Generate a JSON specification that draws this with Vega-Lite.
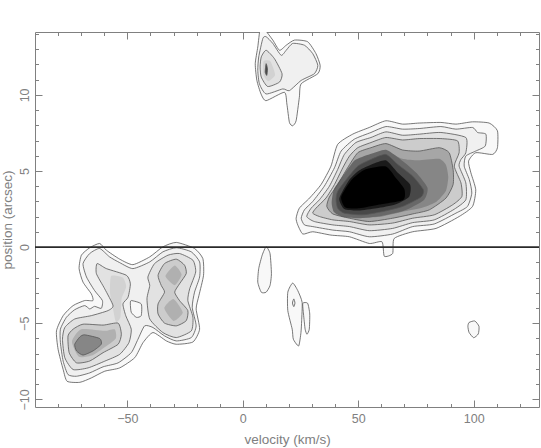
{"$schema":"https://vega.github.io/schema/vega-lite/v6.json","width":504,"height":375,"autosize":"none","padding":{"left":35,"top":32,"right":1,"bottom":40},"background":"white","view":{"stroke":"#808080","strokeWidth":1},
"datasets":{"zero":[{"v":-90,"p":0},{"v":128.3,"p":0}],"c":[
{"c":"m1","l":"a","v":23.1,"p":1.9},{"c":"m1","l":"a","v":24.5,"p":2.56},{"c":"m1","l":"a","v":28.9,"p":3.22},{"c":"m1","l":"a","v":33.9,"p":4.11},{"c":"m1","l":"a","v":38.2,"p":5.32},{"c":"m1","l":"a","v":41.1,"p":6.75},{"c":"m1","l":"a","v":47.6,"p":7.42},{"c":"m1","l":"a","v":54.8,"p":7.86},{"c":"m1","l":"a","v":62,"p":8.3},{"c":"m1","l":"a","v":69.2,"p":8.08},{"c":"m1","l":"a","v":76.4,"p":8.15},{"c":"m1","l":"a","v":85.8,"p":8.19},{"c":"m1","l":"a","v":92.3,"p":8.08},{"c":"m1","l":"a","v":99.5,"p":8.23},{"c":"m1","l":"a","v":106.7,"p":8.15},{"c":"m1","l":"a","v":110.3,"p":7.64},{"c":"m1","l":"a","v":110.3,"p":6.53},{"c":"m1","l":"a","v":108.2,"p":6.09},{"c":"m1","l":"a","v":100.9,"p":6.2},{"c":"m1","l":"a","v":97.8,"p":5.65},{"c":"m1","l":"a","v":98.8,"p":4.88},{"c":"m1","l":"a","v":100.9,"p":3.77},{"c":"m1","l":"a","v":99.5,"p":2.67},{"c":"m1","l":"a","v":93.7,"p":2.01},{"c":"m1","l":"a","v":83.7,"p":1.23},{"c":"m1","l":"a","v":73.6,"p":1.01},{"c":"m1","l":"a","v":65.6,"p":0.57},{"c":"m1","l":"a","v":64.9,"p":-0.42},{"c":"m1","l":"a","v":61.3,"p":-0.6},{"c":"m1","l":"a","v":60.3,"p":0.35},{"c":"m1","l":"a","v":54.8,"p":0.24},{"c":"m1","l":"a","v":46.2,"p":0.68},{"c":"m1","l":"a","v":38.2,"p":0.79},{"c":"m1","l":"a","v":30.3,"p":1.01},{"c":"m1","l":"a","v":26,"p":0.86},{"c":"m1","l":"a","v":23.8,"p":1.46},
{"c":"m2","l":"b","v":25.3,"p":1.9},{"c":"m2","l":"b","v":26.7,"p":2.45},{"c":"m2","l":"b","v":30.3,"p":3},{"c":"m2","l":"b","v":35.3,"p":4},{"c":"m2","l":"b","v":39.7,"p":5.21},{"c":"m2","l":"b","v":42.6,"p":6.31},{"c":"m2","l":"b","v":48.3,"p":7.09},{"c":"m2","l":"b","v":55.5,"p":7.53},{"c":"m2","l":"b","v":62,"p":7.92},{"c":"m2","l":"b","v":69.2,"p":7.75},{"c":"m2","l":"b","v":76.4,"p":7.79},{"c":"m2","l":"b","v":85.8,"p":7.92},{"c":"m2","l":"b","v":92.3,"p":7.75},{"c":"m2","l":"b","v":99.5,"p":7.86},{"c":"m2","l":"b","v":101.7,"p":7.53},{"c":"m2","l":"b","v":105.3,"p":7.42},{"c":"m2","l":"b","v":105,"p":6.64},{"c":"m2","l":"b","v":100.9,"p":6.31},{"c":"m2","l":"b","v":96.6,"p":5.98},{"c":"m2","l":"b","v":95.9,"p":5.32},{"c":"m2","l":"b","v":98.1,"p":4.44},{"c":"m2","l":"b","v":99.2,"p":3.55},{"c":"m2","l":"b","v":97.3,"p":2.67},{"c":"m2","l":"b","v":92.3,"p":2.23},{"c":"m2","l":"b","v":82.9,"p":1.52},{"c":"m2","l":"b","v":73.6,"p":1.35},{"c":"m2","l":"b","v":64.9,"p":0.86},{"c":"m2","l":"b","v":54.8,"p":0.68},{"c":"m2","l":"b","v":46.2,"p":1.01},{"c":"m2","l":"b","v":39,"p":1.12},{"c":"m2","l":"b","v":30.3,"p":1.35},{"c":"m2","l":"b","v":26.7,"p":1.46},
{"c":"m3","l":"c","v":27.7,"p":2.01},{"c":"m3","l":"c","v":29.6,"p":2.56},{"c":"m3","l":"c","v":33.2,"p":3.11},{"c":"m3","l":"c","v":37.5,"p":4},{"c":"m3","l":"c","v":41.1,"p":5.1},{"c":"m3","l":"c","v":44,"p":6.09},{"c":"m3","l":"c","v":49,"p":6.87},{"c":"m3","l":"c","v":55.5,"p":7.2},{"c":"m3","l":"c","v":62,"p":7.57},{"c":"m3","l":"c","v":69.2,"p":7.35},{"c":"m3","l":"c","v":76.4,"p":7.42},{"c":"m3","l":"c","v":85.8,"p":7.53},{"c":"m3","l":"c","v":96.6,"p":7.2},{"c":"m3","l":"c","v":96.6,"p":6.2},{"c":"m3","l":"c","v":94.5,"p":5.76},{"c":"m3","l":"c","v":93.7,"p":5.32},{"c":"m3","l":"c","v":96.6,"p":4.22},{"c":"m3","l":"c","v":96.6,"p":3.11},{"c":"m3","l":"c","v":91.6,"p":2.49},{"c":"m3","l":"c","v":82.9,"p":1.79},{"c":"m3","l":"c","v":73.6,"p":1.61},{"c":"m3","l":"c","v":64.9,"p":1.23},{"c":"m3","l":"c","v":54.8,"p":1.08},{"c":"m3","l":"c","v":46.2,"p":1.35},{"c":"m3","l":"c","v":39,"p":1.46},{"c":"m3","l":"c","v":31,"p":1.68},
{"c":"m4","l":"d","v":30.3,"p":2.23},{"c":"m4","l":"d","v":31.7,"p":2.56},{"c":"m4","l":"d","v":36,"p":3.22},{"c":"m4","l":"d","v":39.7,"p":4.11},{"c":"m4","l":"d","v":43.3,"p":5.21},{"c":"m4","l":"d","v":46.2,"p":5.98},{"c":"m4","l":"d","v":49.8,"p":6.53},{"c":"m4","l":"d","v":55.5,"p":6.87},{"c":"m4","l":"d","v":62,"p":7.2},{"c":"m4","l":"d","v":69.2,"p":7.04},{"c":"m4","l":"d","v":76.4,"p":7.13},{"c":"m4","l":"d","v":85.8,"p":7.13},{"c":"m4","l":"d","v":93,"p":6.98},{"c":"m4","l":"d","v":93.7,"p":6.2},{"c":"m4","l":"d","v":91.6,"p":5.32},{"c":"m4","l":"d","v":94.5,"p":4.22},{"c":"m4","l":"d","v":94.9,"p":3.33},{"c":"m4","l":"d","v":90.9,"p":2.78},{"c":"m4","l":"d","v":82.9,"p":2.12},{"c":"m4","l":"d","v":73.6,"p":1.9},{"c":"m4","l":"d","v":64.9,"p":1.58},{"c":"m4","l":"d","v":54.8,"p":1.46},{"c":"m4","l":"d","v":46.2,"p":1.68},{"c":"m4","l":"d","v":39,"p":1.79},{"c":"m4","l":"d","v":33.2,"p":2.01},
{"c":"m5","l":"e","v":36.4,"p":2.67},{"c":"m5","l":"e","v":37.5,"p":3.29},{"c":"m5","l":"e","v":41.1,"p":4.11},{"c":"m5","l":"e","v":45.4,"p":5.21},{"c":"m5","l":"e","v":49.8,"p":6.2},{"c":"m5","l":"e","v":55.5,"p":6.53},{"c":"m5","l":"e","v":62,"p":6.8},{"c":"m5","l":"e","v":69.2,"p":6.38},{"c":"m5","l":"e","v":76.4,"p":6.31},{"c":"m5","l":"e","v":85.1,"p":6.53},{"c":"m5","l":"e","v":89.4,"p":6.2},{"c":"m5","l":"e","v":91.1,"p":5.1},{"c":"m5","l":"e","v":91.1,"p":4.11},{"c":"m5","l":"e","v":88,"p":3.22},{"c":"m5","l":"e","v":80.8,"p":2.45},{"c":"m5","l":"e","v":73.6,"p":2.18},{"c":"m5","l":"e","v":64.9,"p":1.9},{"c":"m5","l":"e","v":54.8,"p":1.68},{"c":"m5","l":"e","v":46.2,"p":1.9},{"c":"m5","l":"e","v":39,"p":2.18},
{"c":"x1","l":"g","v":40,"p":2.6},{"c":"x1","l":"g","v":45,"p":4.3},{"c":"x1","l":"g","v":50,"p":5.6},{"c":"x1","l":"g","v":56,"p":6},{"c":"x1","l":"g","v":62,"p":6.3},{"c":"x1","l":"g","v":69,"p":5.8},{"c":"x1","l":"g","v":76,"p":5.7},{"c":"x1","l":"g","v":85,"p":5.8},{"c":"x1","l":"g","v":88,"p":5.4},{"c":"x1","l":"g","v":89,"p":4.6},{"c":"x1","l":"g","v":88,"p":3.7},{"c":"x1","l":"g","v":84,"p":3},{"c":"x1","l":"g","v":78,"p":2.6},{"c":"x1","l":"g","v":70,"p":2.35},{"c":"x1","l":"g","v":60,"p":2},{"c":"x1","l":"g","v":50,"p":1.95},{"c":"x1","l":"g","v":43,"p":2.1},
{"c":"x2","l":"q","v":38.5,"p":2.9},{"c":"x2","l":"q","v":39.5,"p":3.8},{"c":"x2","l":"q","v":44,"p":4.8},{"c":"x2","l":"q","v":48.5,"p":5.7},{"c":"x2","l":"q","v":55,"p":6.1},{"c":"x2","l":"q","v":62,"p":6.4},{"c":"x2","l":"q","v":68,"p":5.8},{"c":"x2","l":"q","v":75,"p":4.9},{"c":"x2","l":"q","v":80,"p":3.9},{"c":"x2","l":"q","v":78.5,"p":3.1},{"c":"x2","l":"q","v":70,"p":2.4},{"c":"x2","l":"q","v":60,"p":2.05},{"c":"x2","l":"q","v":50,"p":1.9},{"c":"x2","l":"q","v":43,"p":2},{"c":"x2","l":"q","v":39.5,"p":2.3},
{"c":"m6","l":"f","v":40.4,"p":3.11},{"c":"m6","l":"f","v":41.1,"p":3.66},{"c":"m6","l":"f","v":45.4,"p":4.55},{"c":"m6","l":"f","v":49.8,"p":5.32},{"c":"m6","l":"f","v":55.5,"p":5.76},{"c":"m6","l":"f","v":62,"p":6.09},{"c":"m6","l":"f","v":67.1,"p":5.43},{"c":"m6","l":"f","v":73.6,"p":4.66},{"c":"m6","l":"f","v":78.2,"p":3.77},{"c":"m6","l":"f","v":77.2,"p":3.29},{"c":"m6","l":"f","v":69.2,"p":2.67},{"c":"m6","l":"f","v":60.6,"p":2.34},{"c":"m6","l":"f","v":51.9,"p":2.12},{"c":"m6","l":"f","v":44,"p":2.23},{"c":"m6","l":"f","v":41.1,"p":2.56},
{"c":"x3","l":"h","v":41.8,"p":3.2},{"c":"x3","l":"h","v":46,"p":4.4},{"c":"x3","l":"h","v":50.5,"p":5.05},{"c":"x3","l":"h","v":56,"p":5.45},{"c":"x3","l":"h","v":62,"p":5.7},{"c":"x3","l":"h","v":67,"p":4.9},{"c":"x3","l":"h","v":72.5,"p":4.1},{"c":"x3","l":"h","v":72,"p":3.3},{"c":"x3","l":"h","v":66,"p":2.8},{"c":"x3","l":"h","v":58,"p":2.55},{"c":"x3","l":"h","v":50,"p":2.4},{"c":"x3","l":"h","v":44,"p":2.5},
{"c":"x7","l":"k","v":42.6,"p":3.3},{"c":"x7","l":"k","v":47,"p":4.4},{"c":"x7","l":"k","v":53,"p":5.1},{"c":"x7","l":"k","v":62,"p":5.3},{"c":"x7","l":"k","v":66.5,"p":4.5},{"c":"x7","l":"k","v":70,"p":3.8},{"c":"x7","l":"k","v":69.5,"p":3.1},{"c":"x7","l":"k","v":59.1,"p":2.8},{"c":"x7","l":"k","v":50.5,"p":2.55},{"c":"x7","l":"k","v":44.5,"p":2.6},
{"c":"L1","l":"a","v":-62,"p":0.24},{"c":"L1","l":"a","v":-66.3,"p":-0.04},{"c":"L1","l":"a","v":-69.9,"p":-0.53},{"c":"L1","l":"a","v":-70.9,"p":-1.41},{"c":"L1","l":"a","v":-69.2,"p":-2.3},{"c":"L1","l":"a","v":-65.6,"p":-3.07},{"c":"L1","l":"a","v":-64.9,"p":-3.51},{"c":"L1","l":"a","v":-68.5,"p":-3.51},{"c":"L1","l":"a","v":-73.5,"p":-3.84},{"c":"L1","l":"a","v":-77.8,"p":-4.5},{"c":"L1","l":"a","v":-80.7,"p":-5.5},{"c":"L1","l":"a","v":-80,"p":-6.71},{"c":"L1","l":"a","v":-77.8,"p":-8.04},{"c":"L1","l":"a","v":-76.1,"p":-8.81},{"c":"L1","l":"a","v":-70.6,"p":-8.88},{"c":"L1","l":"a","v":-65.6,"p":-8.59},{"c":"L1","l":"a","v":-59.8,"p":-8.15},{"c":"L1","l":"a","v":-53.3,"p":-7.93},{"c":"L1","l":"a","v":-46.8,"p":-7.26},{"c":"L1","l":"a","v":-43.2,"p":-6.27},{"c":"L1","l":"a","v":-38.9,"p":-5.61},{"c":"L1","l":"a","v":-33.1,"p":-6.16},{"c":"L1","l":"a","v":-28.8,"p":-6.38},{"c":"L1","l":"a","v":-21.6,"p":-6.23},{"c":"L1","l":"a","v":-18.7,"p":-5.39},{"c":"L1","l":"a","v":-20.2,"p":-4.06},{"c":"L1","l":"a","v":-19,"p":-3.18},{"c":"L1","l":"a","v":-17,"p":-1.85},{"c":"L1","l":"a","v":-17.3,"p":-0.75},{"c":"L1","l":"a","v":-20.9,"p":-0.09},{"c":"L1","l":"a","v":-28.8,"p":0.31},{"c":"L1","l":"a","v":-34.6,"p":0.02},{"c":"L1","l":"a","v":-40.3,"p":-0.64},{"c":"L1","l":"a","v":-47.6,"p":-1.15},{"c":"L1","l":"a","v":-53.3,"p":-0.79},{"c":"L1","l":"a","v":-59.1,"p":-0.2},
{"c":"L2","l":"b","v":-69.2,"p":-1.08},{"c":"L2","l":"b","v":-66.3,"p":-0.42},{"c":"L2","l":"b","v":-62,"p":-0.09},{"c":"L2","l":"b","v":-57.7,"p":-0.64},{"c":"L2","l":"b","v":-53.3,"p":-1.02},{"c":"L2","l":"b","v":-47.6,"p":-1.41},{"c":"L2","l":"b","v":-40.3,"p":-0.97},{"c":"L2","l":"b","v":-34.6,"p":-0.31},{"c":"L2","l":"b","v":-28.8,"p":-0.04},{"c":"L2","l":"b","v":-22.3,"p":-0.31},{"c":"L2","l":"b","v":-18.7,"p":-0.97},{"c":"L2","l":"b","v":-18.7,"p":-1.96},{"c":"L2","l":"b","v":-20.9,"p":-2.96},{"c":"L2","l":"b","v":-21.9,"p":-3.95},{"c":"L2","l":"b","v":-20.2,"p":-5.17},{"c":"L2","l":"b","v":-22.3,"p":-5.94},{"c":"L2","l":"b","v":-28.8,"p":-6.16},{"c":"L2","l":"b","v":-33.9,"p":-5.83},{"c":"L2","l":"b","v":-38.9,"p":-5.28},{"c":"L2","l":"b","v":-42.5,"p":-5.17},{"c":"L2","l":"b","v":-45.4,"p":-6.05},{"c":"L2","l":"b","v":-48.3,"p":-6.93},{"c":"L2","l":"b","v":-54,"p":-7.6},{"c":"L2","l":"b","v":-60.5,"p":-7.86},{"c":"L2","l":"b","v":-66.3,"p":-8.26},{"c":"L2","l":"b","v":-72,"p":-8.48},{"c":"L2","l":"b","v":-75.7,"p":-8.37},{"c":"L2","l":"b","v":-77.8,"p":-7.49},{"c":"L2","l":"b","v":-79,"p":-6.27},{"c":"L2","l":"b","v":-79,"p":-5.39},{"c":"L2","l":"b","v":-76.4,"p":-4.61},{"c":"L2","l":"b","v":-72.8,"p":-4.11},{"c":"L2","l":"b","v":-68.5,"p":-3.84},{"c":"L2","l":"b","v":-66.3,"p":-4.06},{"c":"L2","l":"b","v":-64.2,"p":-3.89},{"c":"L2","l":"b","v":-61.3,"p":-4.02},{"c":"L2","l":"b","v":-60.8,"p":-3.51},{"c":"L2","l":"b","v":-64.2,"p":-2.85},{"c":"L2","l":"b","v":-67.7,"p":-1.96},
{"c":"L3","l":"c","v":-63.1,"p":-1.08},{"c":"L3","l":"c","v":-59.1,"p":-1.41},{"c":"L3","l":"c","v":-50.4,"p":-1.85},{"c":"L3","l":"c","v":-48.7,"p":-2.41},{"c":"L3","l":"c","v":-49.7,"p":-3.29},{"c":"L3","l":"c","v":-51.9,"p":-3.73},{"c":"L3","l":"c","v":-50.7,"p":-4.5},{"c":"L3","l":"c","v":-48.3,"p":-5.39},{"c":"L3","l":"c","v":-49.3,"p":-6.27},{"c":"L3","l":"c","v":-53.3,"p":-7.04},{"c":"L3","l":"c","v":-59.8,"p":-7.49},{"c":"L3","l":"c","v":-67,"p":-7.93},{"c":"L3","l":"c","v":-73.5,"p":-8.04},{"c":"L3","l":"c","v":-77.1,"p":-7.26},{"c":"L3","l":"c","v":-78.1,"p":-6.05},{"c":"L3","l":"c","v":-77.1,"p":-5.28},{"c":"L3","l":"c","v":-72.8,"p":-4.72},{"c":"L3","l":"c","v":-65.6,"p":-4.5},{"c":"L3","l":"c","v":-58.4,"p":-4.17},{"c":"L3","l":"c","v":-56.2,"p":-3.84},{"c":"L3","l":"c","v":-59.8,"p":-2.74},{"c":"L3","l":"c","v":-63.4,"p":-1.74},
{"c":"x4","l":"j","v":-57,"p":-1.9},{"c":"x4","l":"j","v":-52,"p":-2},{"c":"x4","l":"j","v":-50.5,"p":-2.6},{"c":"x4","l":"j","v":-52.5,"p":-3.4},{"c":"x4","l":"j","v":-53,"p":-4.6},{"c":"x4","l":"j","v":-55,"p":-4.9},{"c":"x4","l":"j","v":-56.5,"p":-3.8},{"c":"x4","l":"j","v":-57.5,"p":-3},
{"c":"R3","l":"c","v":-41.1,"p":-1.96},{"c":"R3","l":"c","v":-38.2,"p":-1.08},{"c":"R3","l":"c","v":-32.4,"p":-0.53},{"c":"R3","l":"c","v":-27.4,"p":-0.42},{"c":"R3","l":"c","v":-21.6,"p":-0.86},{"c":"R3","l":"c","v":-20.4,"p":-1.63},{"c":"R3","l":"c","v":-23,"p":-2.74},{"c":"R3","l":"c","v":-23.8,"p":-3.51},{"c":"R3","l":"c","v":-21.6,"p":-4.6},{"c":"R3","l":"c","v":-22.3,"p":-5.5},{"c":"R3","l":"c","v":-28.8,"p":-5.94},{"c":"R3","l":"c","v":-34.6,"p":-5.61},{"c":"R3","l":"c","v":-40.3,"p":-4.72},{"c":"R3","l":"c","v":-41.5,"p":-3.4},{"c":"R3","l":"c","v":-40.3,"p":-2.52},
{"c":"L4","l":"d","v":-75.7,"p":-5.83},{"c":"L4","l":"d","v":-73.5,"p":-5.39},{"c":"L4","l":"d","v":-69.2,"p":-5.06},{"c":"L4","l":"d","v":-60.5,"p":-5.12},{"c":"L4","l":"d","v":-54,"p":-4.99},{"c":"L4","l":"d","v":-52.6,"p":-5.72},{"c":"L4","l":"d","v":-54,"p":-6.38},{"c":"L4","l":"d","v":-60.5,"p":-6.93},{"c":"L4","l":"d","v":-66.3,"p":-7.48},{"c":"L4","l":"d","v":-72,"p":-7.6},{"c":"L4","l":"d","v":-75.2,"p":-6.93},
{"c":"x5","l":"n","v":-74,"p":-6.2},{"c":"x5","l":"n","v":-70,"p":-5.4},{"c":"x5","l":"n","v":-60,"p":-5.5},{"c":"x5","l":"n","v":-55.5,"p":-5.4},{"c":"x5","l":"n","v":-55,"p":-6},{"c":"x5","l":"n","v":-60,"p":-6.6},{"c":"x5","l":"n","v":-65,"p":-7.1},{"c":"x5","l":"n","v":-71,"p":-7.2},
{"c":"L5","l":"g","v":-72.8,"p":-6.38},{"c":"L5","l":"g","v":-70.6,"p":-5.9},{"c":"L5","l":"g","v":-68.5,"p":-5.76},{"c":"L5","l":"g","v":-62,"p":-6},{"c":"L5","l":"g","v":-61.3,"p":-6.38},{"c":"L5","l":"g","v":-64.9,"p":-6.82},{"c":"L5","l":"g","v":-69.2,"p":-7.09},{"c":"L5","l":"g","v":-72,"p":-6.82},
{"c":"R4","l":"d","v":-36.7,"p":-1.85},{"c":"R4","l":"d","v":-33.9,"p":-1.08},{"c":"R4","l":"d","v":-28.8,"p":-0.79},{"c":"R4","l":"d","v":-25.2,"p":-1.19},{"c":"R4","l":"d","v":-24.5,"p":-1.74},{"c":"R4","l":"d","v":-27.4,"p":-2.41},{"c":"R4","l":"d","v":-29.5,"p":-2.96},{"c":"R4","l":"d","v":-27.4,"p":-3.51},{"c":"R4","l":"d","v":-23.8,"p":-4.17},{"c":"R4","l":"d","v":-24.5,"p":-4.83},{"c":"R4","l":"d","v":-28.8,"p":-5.17},{"c":"R4","l":"d","v":-33.9,"p":-4.99},{"c":"R4","l":"d","v":-36.7,"p":-4.39},{"c":"R4","l":"d","v":-36.7,"p":-3.73},{"c":"R4","l":"d","v":-33.9,"p":-2.96},{"c":"R4","l":"d","v":-35.3,"p":-2.52},
{"c":"x6","l":"n","v":-33.5,"p":-1.9},{"c":"x6","l":"n","v":-29.5,"p":-1.2},{"c":"x6","l":"n","v":-26.5,"p":-1.8},{"c":"x6","l":"n","v":-29.5,"p":-2.5},
{"c":"x8","l":"n","v":-34,"p":-4},{"c":"x8","l":"n","v":-30,"p":-3.4},{"c":"x8","l":"n","v":-26,"p":-4.3},{"c":"x8","l":"n","v":-30,"p":-4.85},
{"c":"H","l":"a","v":-48.3,"p":-3.51},{"c":"H","l":"a","v":-44,"p":-3.73},{"c":"H","l":"a","v":-44,"p":-4.5},{"c":"H","l":"a","v":-46.1,"p":-4.61},{"c":"H","l":"a","v":-48.3,"p":-4.28},{"c":"H","l":"a","v":-48.7,"p":-3.73},
{"c":"T1","l":"a","v":7.5,"p":14.3},{"c":"T1","l":"a","v":6.5,"p":13.15},{"c":"T1","l":"a","v":5.4,"p":12.05},{"c":"T1","l":"a","v":6.1,"p":10.95},{"c":"T1","l":"a","v":7.9,"p":10.06},{"c":"T1","l":"a","v":10.1,"p":9.62},{"c":"T1","l":"a","v":18,"p":10.17},{"c":"T1","l":"a","v":19.1,"p":9.4},{"c":"T1","l":"a","v":20.2,"p":8.19},{"c":"T1","l":"a","v":21.6,"p":7.97},{"c":"T1","l":"a","v":23.1,"p":8.3},{"c":"T1","l":"a","v":24.5,"p":9.84},{"c":"T1","l":"a","v":25.3,"p":10.73},{"c":"T1","l":"a","v":32.5,"p":11.39},{"c":"T1","l":"a","v":33.5,"p":11.94},{"c":"T1","l":"a","v":31.7,"p":12.71},{"c":"T1","l":"a","v":28.1,"p":13.49},{"c":"T1","l":"a","v":22.4,"p":13.6},{"c":"T1","l":"a","v":18.8,"p":13.26},{"c":"T1","l":"a","v":15.9,"p":12.93},{"c":"T1","l":"a","v":13,"p":13.6},{"c":"T1","l":"a","v":9.4,"p":14.3},
{"c":"T2","l":"b","v":7.2,"p":10.73},{"c":"T2","l":"b","v":10.1,"p":10.06},{"c":"T2","l":"b","v":17.3,"p":10.39},{"c":"T2","l":"b","v":20.2,"p":10.28},{"c":"T2","l":"b","v":25.3,"p":10.95},{"c":"T2","l":"b","v":31,"p":11.39},{"c":"T2","l":"b","v":32.5,"p":11.94},{"c":"T2","l":"b","v":30.3,"p":12.71},{"c":"T2","l":"b","v":26.7,"p":13.26},{"c":"T2","l":"b","v":21.6,"p":13.38},{"c":"T2","l":"b","v":18.8,"p":12.93},{"c":"T2","l":"b","v":16.6,"p":12.6},{"c":"T2","l":"b","v":13,"p":13.38},{"c":"T2","l":"b","v":10.1,"p":13.82},{"c":"T2","l":"b","v":8.7,"p":13.71},{"c":"T2","l":"b","v":6.9,"p":12.49},{"c":"T2","l":"b","v":6.5,"p":11.61},
{"c":"T3","l":"c","v":8,"p":12.49},{"c":"T3","l":"c","v":10.1,"p":12.93},{"c":"T3","l":"c","v":13.7,"p":12.38},{"c":"T3","l":"c","v":17,"p":11.39},{"c":"T3","l":"c","v":15.9,"p":10.84},{"c":"T3","l":"c","v":10.8,"p":10.55},{"c":"T3","l":"c","v":8,"p":11.17},{"c":"T3","l":"c","v":7.5,"p":11.83},
{"c":"x9","l":"j","v":9,"p":12.2},{"c":"x9","l":"j","v":12,"p":12.2},{"c":"x9","l":"j","v":14,"p":11.3},{"c":"x9","l":"j","v":11,"p":10.9},{"c":"x9","l":"j","v":9,"p":11.3},
{"c":"T4","l":"f","v":10.1,"p":12.05},{"c":"T4","l":"f","v":10.7,"p":11.72},{"c":"T4","l":"f","v":10.4,"p":11.28},{"c":"T4","l":"f","v":9.7,"p":11.5},
{"c":"A","l":"a","v":10.1,"p":0.02},{"c":"A","l":"a","v":11.8,"p":-0.42},{"c":"A","l":"a","v":12.4,"p":-1.74},{"c":"A","l":"a","v":11.8,"p":-2.52},{"c":"A","l":"a","v":10.1,"p":-2.96},{"c":"A","l":"a","v":8,"p":-2.96},{"c":"A","l":"a","v":6.5,"p":-2.3},{"c":"A","l":"a","v":6.9,"p":-1.41},{"c":"A","l":"a","v":8.4,"p":-0.53},
{"c":"B","l":"a","v":21.6,"p":-2.36},{"c":"B","l":"a","v":23.8,"p":-2.85},{"c":"B","l":"a","v":25.7,"p":-3.62},{"c":"B","l":"a","v":25.5,"p":-4.84},{"c":"B","l":"a","v":25.2,"p":-5.61},{"c":"B","l":"a","v":24.2,"p":-6.49},{"c":"B","l":"a","v":21.9,"p":-6.05},{"c":"B","l":"a","v":21.4,"p":-5.39},{"c":"B","l":"a","v":19.5,"p":-4.17},{"c":"B","l":"a","v":19.5,"p":-2.96},
{"c":"C","l":"b","v":22.1,"p":-3.4},{"c":"C","l":"b","v":22.6,"p":-3.67},{"c":"C","l":"b","v":22.1,"p":-3.91},{"c":"C","l":"b","v":21.5,"p":-3.67},
{"c":"D","l":"a","v":26,"p":-3.69},{"c":"D","l":"a","v":28.1,"p":-3.69},{"c":"D","l":"a","v":29,"p":-4.39},{"c":"D","l":"a","v":28.8,"p":-5.39},{"c":"D","l":"a","v":27.8,"p":-5.72},{"c":"D","l":"a","v":27,"p":-5.39},{"c":"D","l":"a","v":26.3,"p":-4.39},
{"c":"E","l":"a","v":98,"p":-4.95},{"c":"E","l":"a","v":100.5,"p":-4.85},{"c":"E","l":"a","v":102.3,"p":-5.2},{"c":"E","l":"a","v":102,"p":-5.7},{"c":"E","l":"a","v":100,"p":-5.95},{"c":"E","l":"a","v":98,"p":-5.6},{"c":"E","l":"a","v":97.5,"p":-5.2}
]},
"resolve":{"axis":{"x":"independent","y":"independent"}},
"layer":[
{"data":{"name":"c"},"mark":{"type":"line","order":null,"interpolate":"cardinal-closed","tension":0.4,"strokeOpacity":0,"clip":true},
"encoding":{"detail":{"field":"c"},
"x":{"field":"v","type":"quantitative","scale":{"domain":[-90,128.3],"nice":false,"zero":false},"axis":{"orient":"bottom","values":[-50,0,50,100],"tickSize":-7,"tickColor":"#808080","domain":false,"grid":false,"labelColor":"#808080","labelFont":"Liberation Sans","labelFontSize":12.5,"labelPadding":12,"title":"velocity (km/s)","titleColor":"#808080","titleFont":"Liberation Sans","titleFontSize":13.5,"titleFontWeight":"normal","titlePadding":8}},
"y":{"field":"p","type":"quantitative","scale":{"domain":[-10.5,14.13],"nice":false,"zero":false},"axis":{"orient":"left","values":[-10,-5,0,5,10],"tickSize":-7,"tickColor":"#808080","domain":false,"grid":false,"labelColor":"#808080","labelFont":"Liberation Sans","labelFontSize":12.5,"labelAngle":-90,"labelAlign":"center","labelBaseline":"bottom","labelPadding":11,"title":"position (arcsec)","titleColor":"#808080","titleFont":"Liberation Sans","titleFontSize":13.5,"titleFontWeight":"normal","titlePadding":4}},
"fill":{"field":"l","type":"nominal","legend":null,"scale":{"domain":["a","b","c","d","e","f","k","g","h","j","n","q"],"range":["#f8f8f8","#f0f0f0","#e2e2e2","#cccccc","#a6a6a6","#484848","#000000","#868686","#1a1a1a","#d2d2d2","#b0b0b0","#686868"]}}}},
{"data":{"name":"c"},"transform":[{"filter":"datum.c[0]!=='x'"}],"mark":{"type":"line","order":null,"interpolate":"cardinal-closed","tension":0.4,"stroke":"#555555","strokeWidth":0.8,"clip":true},
"encoding":{"detail":{"field":"c"},
"x":{"field":"v","type":"quantitative","scale":{"domain":[-90,128.3],"nice":false,"zero":false},"axis":{"orient":"bottom","values":[-80,-70,-60,-40,-30,-20,-10,10,20,30,40,60,70,80,90,110,120],"tickSize":-3.5,"tickColor":"#808080","domain":false,"grid":false,"labels":false,"title":null}},
"y":{"field":"p","type":"quantitative","scale":{"domain":[-10.5,14.13],"nice":false,"zero":false},"axis":{"orient":"left","values":[-9,-8,-7,-6,-4,-3,-2,-1,1,2,3,4,6,7,8,9,11,12,13,14],"tickSize":-3.5,"tickColor":"#808080","domain":false,"grid":false,"labels":false,"title":null}}}},
{"data":{"name":"zero"},"mark":{"type":"line","order":null,"stroke":"#2a2a2a","strokeWidth":1.5},
"encoding":{
"x":{"field":"v","type":"quantitative","scale":{"domain":[-90,128.3],"nice":false,"zero":false},"axis":{"orient":"top","values":[-50,0,50,100],"tickSize":-7,"tickColor":"#808080","domain":false,"grid":false,"labels":false,"title":null}},
"y":{"field":"p","type":"quantitative","scale":{"domain":[-10.5,14.13],"nice":false,"zero":false},"axis":{"orient":"right","values":[-10,-5,0,5,10],"tickSize":-7,"tickColor":"#808080","domain":false,"grid":false,"labels":false,"title":null}}}},
{"data":{"name":"zero"},"mark":{"type":"line","order":null,"stroke":"#2a2a2a","strokeWidth":1.5},
"encoding":{
"x":{"field":"v","type":"quantitative","scale":{"domain":[-90,128.3],"nice":false,"zero":false},"axis":{"orient":"top","values":[-80,-70,-60,-40,-30,-20,-10,10,20,30,40,60,70,80,90,110,120],"tickSize":-3.5,"tickColor":"#808080","domain":false,"grid":false,"labels":false,"title":null}},
"y":{"field":"p","type":"quantitative","scale":{"domain":[-10.5,14.13],"nice":false,"zero":false},"axis":{"orient":"right","values":[-9,-8,-7,-6,-4,-3,-2,-1,1,2,3,4,6,7,8,9,11,12,13,14],"tickSize":-3.5,"tickColor":"#808080","domain":false,"grid":false,"labels":false,"title":null}}}}
]}
